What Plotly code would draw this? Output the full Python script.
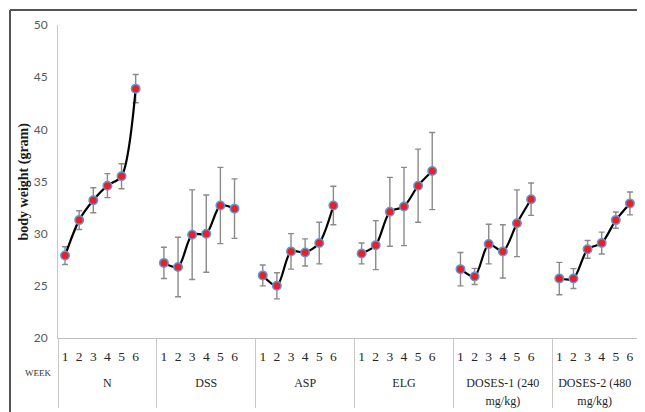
import plotly.graph_objects as go

group_names = ["N", "DSS", "ASP", "ELG", "DOSES-1 (240<br>mg/kg)", "DOSES-2 (480<br>mg/kg)"]
weeks = ["1", "2", "3", "4", "5", "6"]

n_vals = [27.9, 31.3, 33.2, 34.6, 35.5, 43.9]
n_err = [0.85, 0.9, 1.2, 1.15, 1.2, 1.35]
dss_vals = [27.2, 26.8, 29.9, 30.0, 32.7, 32.4]
dss_err = [1.5, 2.85, 4.3, 3.7, 3.65, 2.85]
asp_vals = [26.0, 25.0, 28.3, 28.2, 29.1, 32.7]
asp_err = [1.0, 1.25, 1.7, 1.3, 2.0, 1.85]
elg_vals = [28.1, 28.9, 32.1, 32.6, 34.6, 36.0]
elg_err = [1.0, 2.35, 3.3, 3.75, 3.5, 3.7]
d1_vals = [26.6, 25.9, 29.0, 28.3, 31.0, 33.3]
d1_err = [1.6, 0.77, 1.9, 2.55, 3.2, 1.55]
d2_vals = [25.7, 25.7, 28.5, 29.1, 31.3, 32.9]
d2_err = [1.55, 0.95, 0.85, 1.05, 0.78, 1.1]

all_vals = [n_vals, dss_vals, asp_vals, elg_vals, d1_vals, d2_vals]
all_errs = [n_err, dss_err, asp_err, elg_err, d1_err, d2_err]

# styled labels (group level slightly smaller; week level padded in height
# with invisible hair spaces so the group row sits lower)
def grp_label(g):
    return "<br>".join("<span style='font-size:12px'>%s</span>" % part for part in g.split("<br>"))

pad = "<span style='font-size:27px'>\u200a</span>"
def wk_label(w):
    return pad + w + pad

x_grp, x_wk, y, e = [], [], [], []
for gi, g in enumerate(group_names):
    for wi, w in enumerate(weeks):
        x_grp.append(grp_label(g))
        x_wk.append(wk_label(w))
        y.append(all_vals[gi][wi])
        e.append(all_errs[gi][wi])
    if gi < len(group_names) - 1:
        x_grp.append(grp_label(g))
        x_wk.append(" ")
        y.append(None)
        e.append(None)

fig = go.Figure()
fig.add_trace(go.Scatter(
    x=[x_grp, x_wk], y=y,
    mode="lines+markers",
    line=dict(color="black", width=2.2, shape="spline", smoothing=0.8),
    connectgaps=False,
    marker=dict(size=8.5, color="#e8202c", line=dict(color="#5b9bd5", width=1.5)),
    error_y=dict(type="data", array=e, visible=True, color="#8a8a8a", thickness=1.4, width=3),
    showlegend=False,
))

# the page adds an 8px body margin, so figure coordinates are window - 8
OFF = 8
W, H = 645, 412
L, T = 58 - OFF, 25 - OFF
R = W - (637 - OFF)
B = H - (338 - OFF)
pw, ph = W - L - R, H - T - B

def px_x(p):
    return (p - OFF - L) / pw

def px_y(p):
    return (H - B - (p - OFF)) / ph

fig.update_layout(
    width=W, height=H,
    margin=dict(l=L, r=R, t=T, b=B, autoexpand=False),
    paper_bgcolor="white", plot_bgcolor="white",
    xaxis=dict(
        type="multicategory",
        range=[-0.5, 40.5],
        automargin=False,
        tickmode="linear", tick0=0, dtick=1, tickangle=0,
        showgrid=False, zeroline=False,
        showline=True, linecolor="#c0c0c0", linewidth=1,
        showdividers=True, dividercolor="#c8c8c8", dividerwidth=1,
        ticks="", ticklabelstandoff=6,
        tickfont=dict(family="Liberation Serif", size=13.5, color="#262626"),
    ),
    yaxis=dict(
        range=[20, 50], dtick=5,
        automargin=False,
        showgrid=False, zeroline=False,
        showline=True, linecolor="#c8c8c8", linewidth=1,
        ticks="", ticklabelstandoff=7,
        tickfont=dict(family="Lato", size=12, color="#595959"),
    ),
    annotations=[
        dict(text="WEEK", xref="paper", yref="paper",
             x=px_x(38), y=px_y(373), showarrow=False,
             xanchor="center", yanchor="middle",
             font=dict(family="Liberation Serif", size=9, color="#333333")),
        dict(text="<b>body weight (gram)</b>", xref="paper", yref="paper",
             x=px_x(23), y=0.5, showarrow=False, textangle=-90,
             xanchor="center", yanchor="middle",
             font=dict(family="Liberation Serif", size=14, color="#1a1a1a")),
    ],
    shapes=[
        dict(type="line", xref="paper", yref="paper",
             x0=px_x(10), x1=px_x(10), y0=px_y(10), y1=px_y(420),
             line=dict(color="#555555", width=2)),
        dict(type="line", xref="paper", yref="paper",
             x0=px_x(10), x1=px_x(653), y0=px_y(10), y1=px_y(10),
             line=dict(color="#555555", width=2)),
    ],
)

fig.write_html("out.html")
